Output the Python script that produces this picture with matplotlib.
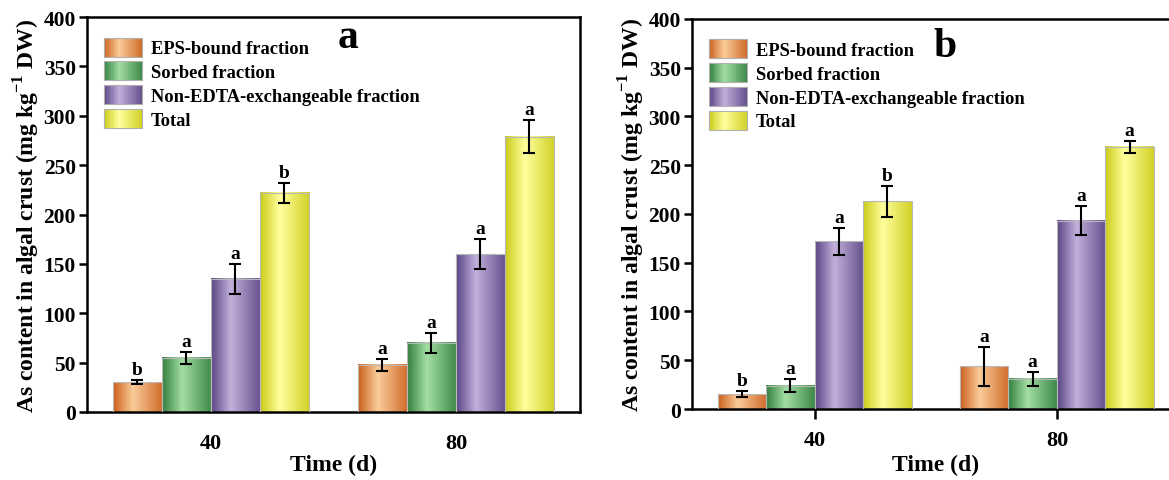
import matplotlib
matplotlib.use("Agg")
import matplotlib.pyplot as plt
import numpy as np
from matplotlib.legend_handler import HandlerBase
from matplotlib.patches import Rectangle

plt.rcParams["font.family"] = ["Liberation Serif", "DejaVu Serif"]
plt.rcParams["font.weight"] = "bold"
plt.rcParams["mathtext.fontset"] = "custom"
plt.rcParams["mathtext.rm"] = "Liberation Serif:bold"
plt.rcParams["mathtext.bf"] = "Liberation Serif:bold"

times = ["40", "80"]
fractions = ["EPS-bound fraction", "Sorbed fraction",
             "Non-EDTA-exchangeable fraction", "Total"]

# panel a
a_means = [[30, 48], [55, 70], [135, 160], [222, 279]]
a_errs = [[2, 6], [6, 10], [15, 15], [10, 17]]
a_letters = [["b", "a"], ["a", "a"], ["a", "a"], ["b", "a"]]

# panel b
b_means = [[15, 44], [24, 31], [172, 193], [213, 269]]
b_errs = [[3, 20], [7, 7], [14, 15], [16, 6]]
b_letters = [["b", "a"], ["a", "a"], ["a", "a"], ["b", "a"]]

# dark edge / light centre for each gradient fill
dark_cols = [(0.80, 0.38, 0.12), (0.20, 0.50, 0.25), (0.36, 0.27, 0.52), (0.80, 0.80, 0.10)]
light_cols = [(0.98, 0.80, 0.60), (0.64, 0.87, 0.64), (0.76, 0.69, 0.86), (1.00, 1.00, 0.62)]


def gradient(dark, light, n=64):
    t = np.linspace(0, 1, n)
    w = np.interp(t, [0, 0.4, 1], [0, 1, 0.1])
    d = np.array(dark)
    l = np.array(light)
    return d[None, :] + (l - d)[None, :] * w[:, None]


class GradHandler(HandlerBase):
    def __init__(self, dark, light):
        super().__init__()
        self.cols = gradient(dark, light, 30)

    def create_artists(self, legend, orig_handle, xdescent, ydescent,
                       width, height, fontsize, trans):
        n = len(self.cols)
        arts = []
        for i, c in enumerate(self.cols):
            arts.append(Rectangle((-xdescent + i * width / n, -ydescent),
                                  width / n * 1.1, height, facecolor=c,
                                  edgecolor="none", transform=trans))
        arts.append(Rectangle((-xdescent, -ydescent), width, height,
                              facecolor="none", edgecolor="#b0b0b0",
                              lw=0.8, transform=trans))
        return arts


def draw_panel(ax, means, errs, letters, label, label_xy, xticks_marks):
    x = np.arange(len(times))
    w = 0.2
    for k in range(len(fractions)):
        grad = gradient(dark_cols[k], light_cols[k])
        pos = x + (k - 1.5) * w
        for j in range(len(times)):
            h = means[k][j]
            ax.imshow(grad[None, :, :], extent=[pos[j] - w / 2, pos[j] + w / 2, 0, h],
                      aspect="auto", zorder=2, interpolation="bilinear")
        ax.bar(pos, means[k], w, fill=False, edgecolor="#b8b8b8", lw=0.8, zorder=3)
        ax.errorbar(pos, means[k], yerr=errs[k], fmt="none", ecolor="black",
                    elinewidth=1.5, capsize=4, capthick=1.5, zorder=4)
        for j in range(len(times)):
            ax.text(pos[j], means[k][j] + errs[k][j] + 2, letters[k][j],
                    ha="center", va="bottom", fontsize=14, fontweight="bold")

    ax.set_xlim(-0.506, 1.506)
    ax.set_ylim(0, 400)
    ax.set_yticks(np.arange(0, 401, 50))
    ax.set_xticks(x)
    ax.set_xticklabels(times)
    for s in ax.spines.values():
        s.set_linewidth(1.8)
    ax.tick_params(axis="y", direction="out", length=6, width=1.8, labelsize=15.5, pad=2)
    if xticks_marks:
        ax.tick_params(axis="x", direction="out", length=7, width=1.8, labelsize=16, pad=8)
    else:
        ax.tick_params(axis="x", length=0, labelsize=16, pad=15)
    ax.set_xlabel("Time (d)", fontsize=17, fontweight="bold",
                  labelpad=3 if xticks_marks else 1)
    ax.set_ylabel(r"As content in algal crust (mg kg$^{-1}$ DW)", fontsize=17,
                  fontweight="bold", labelpad=1)
    ax.text(label_xy[0], label_xy[1], label, transform=ax.transAxes,
            fontsize=30, fontweight="bold", ha="center", va="center")

    handles = [Rectangle((0, 0), 1, 1) for _ in fractions]
    hmap = {h: GradHandler(dark_cols[k], light_cols[k]) for k, h in enumerate(handles)}
    ax.legend(handles, fractions, handler_map=hmap, loc="upper left",
              bbox_to_anchor=(0.0, 0.99), frameon=False, fontsize=13.3,
              handlelength=2.1, handleheight=1.2, labelspacing=0.22,
              handletextpad=0.45, borderaxespad=0.5)


fig = plt.figure(figsize=(11.69, 4.81), dpi=100)
ax1 = fig.add_axes([0.0744, 0.1414, 0.4217, 0.821])
ax2 = fig.add_axes([0.592, 0.1476, 0.417, 0.811])

draw_panel(ax1, a_means, a_errs, a_letters, "a", (0.53, 0.95), False)
draw_panel(ax2, b_means, b_errs, b_letters, "b", (0.52, 0.93), True)

fig.savefig("out.png", dpi=100)
